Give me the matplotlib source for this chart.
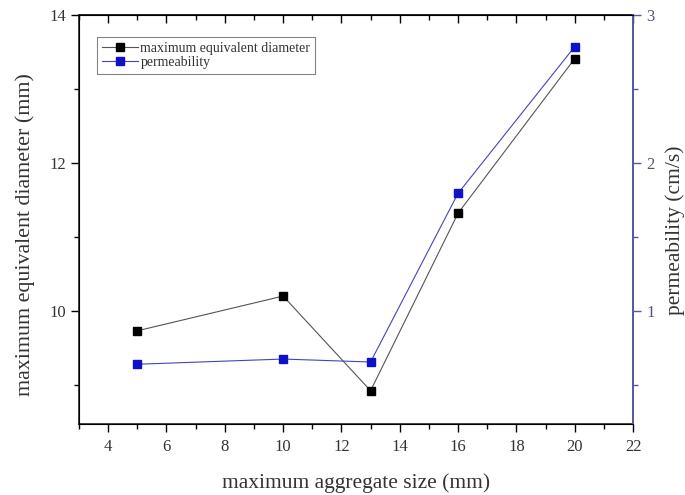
import matplotlib
matplotlib.use("Agg")
import matplotlib.pyplot as plt
from matplotlib.ticker import MultipleLocator, NullFormatter

plt.rcParams['font.family'] = ['Liberation Serif', 'DejaVu Serif']

# aggregate sizes and measured values
aggregate_size = [5, 10, 13, 16, 20]
max_equiv_diameter = [9.73, 10.20, 8.92, 11.32, 13.41]
permeability = [0.64, 0.675, 0.655, 1.795, 2.786]

x_ticks = [4, 6, 8, 10, 12, 14, 16, 18, 20, 22]
left_ticks = [10, 12, 14]
right_ticks = [1, 2, 3]

blue = '#1010c8'
right_spine = '#5555aa'
text_gray = '#333333'

fig = plt.figure(figsize=(6.85, 4.95), dpi=100)
ax = fig.add_axes([0.1153, 0.1434, 0.8088, 0.8263])
ax2 = ax.twinx()

l1, = ax.plot(aggregate_size, max_equiv_diameter, color='#555555', lw=0.8,
              marker='s', markersize=6, markerfacecolor='black',
              markeredgecolor='black', label='maximum equivalent diameter')
l2, = ax2.plot(aggregate_size, permeability, color='#4444bb', lw=0.8,
               marker='s', markersize=6, markerfacecolor=blue,
               markeredgecolor=blue, label='permeability')

ax.set_xlim(3, 22)
ax.set_ylim(8.47, 14)
ax2.set_ylim(0.236, 3)

ax.set_xticks(x_ticks)
ax.set_yticks(left_ticks)
ax2.set_yticks(right_ticks)
ax.xaxis.set_minor_locator(MultipleLocator(1))
ax.yaxis.set_minor_locator(MultipleLocator(1))
ax2.yaxis.set_minor_locator(MultipleLocator(0.5))

ax.tick_params(axis='x', which='major', direction='out', length=6, width=1,
               labelsize=12, labelcolor=text_gray, top=False, pad=5)
ax.tick_params(axis='x', which='minor', direction='out', length=3.5, width=1,
               top=False)
ax.tick_params(axis='y', which='major', direction='out', length=6, width=1,
               labelsize=12, labelcolor=text_gray)
ax.tick_params(axis='y', which='minor', direction='out', length=3.5, width=1)
ax2.tick_params(axis='y', which='major', direction='out', length=6, width=1,
                labelsize=12, colors=right_spine, labelcolor='#555577')
ax2.tick_params(axis='y', which='minor', direction='out', length=3.5, width=1,
                colors=right_spine)

# inward ticks along the top edge, without labels
top = ax.secondary_xaxis('top')
top.set_xticks(x_ticks)
top.xaxis.set_minor_locator(MultipleLocator(1))
top.xaxis.set_major_formatter(NullFormatter())
top.tick_params(which='major', direction='in', length=6, width=1)
top.tick_params(which='minor', direction='in', length=3.5, width=1)
top.spines['top'].set_linewidth(1.2)
top.spines['top'].set_color('#222222')

for side in ['left', 'bottom', 'top']:
    ax.spines[side].set_linewidth(1.2)
    ax.spines[side].set_color('#222222')
ax2.spines['right'].set_color(right_spine)
ax2.spines['right'].set_linewidth(1.4)
ax.spines['right'].set_visible(False)

ax.set_xlabel('maximum aggregate size (mm)', fontsize=15.5, color=text_gray,
              labelpad=13)
ax.set_ylabel('maximum equivalent diameter (mm)', fontsize=15.8,
              color=text_gray)
ax.yaxis.set_label_coords(-0.08, 0.462)
ax2.set_ylabel('permeability (cm/s)', fontsize=15.5, color=text_gray)
ax2.yaxis.set_label_coords(1.058, 0.474)

leg = ax.legend(handles=[l1, l2], loc='upper left',
                bbox_to_anchor=(0.032, 0.946), fontsize=10, frameon=True,
                fancybox=False, edgecolor='#666666', borderpad=0.35,
                handlelength=2.6, handletextpad=0.2, labelspacing=0.1,
                borderaxespad=0, markerscale=0.85)
leg.get_frame().set_linewidth(0.8)
for txt in leg.get_texts():
    txt.set_color(text_gray)

fig.savefig('out.png', dpi=100)
